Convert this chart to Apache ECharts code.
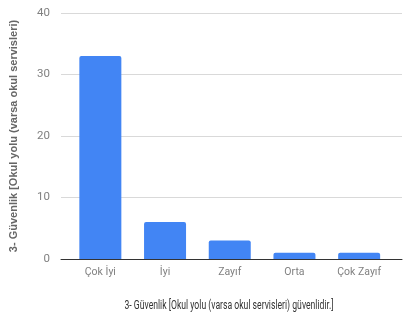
<!DOCTYPE html>
<html lang="tr" style="height: 100%">
<head>
    <meta charset="utf-8">
</head>
<body style="height: 100%; margin: 0; overflow: hidden; background: #fff">
<div id="container" style="height: 324px; width: 408px"></div>

<script type="text/javascript" src="https://cdn.jsdelivr.net/npm/echarts@6/dist/echarts.min.js"></script>

<script type="text/javascript">
    // veriler
    var categories = ['Çok İyi', 'İyi', 'Zayıf', 'Orta', 'Çok Zayıf'];
    var counts = [33, 6, 3, 1, 1];
    var yTicks = [0, 10, 20, 30, 40];

    var yTitle = '3- Güvenlik [Okul yolu (varsa okul servisleri)';
    var xTitle = '3- Güvenlik [Okul yolu (varsa okul servisleri) güvenlidir.]';

    var dom = document.getElementById('container');
    var myChart = echarts.init(dom, null, { renderer: 'canvas' });

    var option = {
      animation: false,
      textStyle: { fontFamily: 'Roboto, sans-serif' },
      grid: [
        // arka plan: ızgara çizgileri tam genişlikte
        { left: 57, right: 6, top: 13, bottom: 65 },
        // sütunlar
        { left: 68, right: 16.5, top: 13, bottom: 65 }
      ],
      // x ekseni başlığı, dar yazı için yatayda sıkıştırılmış
      graphic: [
        {
          type: 'text',
          x: 229,
          y: 306,
          scaleX: 0.72,
          style: {
            text: xTitle,
            font: '12px Roboto, sans-serif',
            fill: '#333',
            align: 'center',
            verticalAlign: 'middle'
          }
        }
      ],
      xAxis: [
        {
          gridIndex: 0,
          type: 'value',
          min: 0,
          max: 1,
          axisLine: { show: true, lineStyle: { color: '#333', width: 1 } },
          axisTick: { show: false },
          axisLabel: { show: false },
          splitLine: { show: false }
        },
        {
          gridIndex: 1,
          type: 'category',
          data: categories,
          axisLine: { show: false },
          axisTick: { show: false },
          axisLabel: { interval: 0, fontSize: 10.5, color: '#808080', margin: 8 }
        }
      ],
      yAxis: [
        {
          gridIndex: 0,
          type: 'value',
          min: yTicks[0],
          max: yTicks[yTicks.length - 1],
          interval: 10,
          axisLine: { show: false },
          axisTick: { show: false },
          axisLabel: { fontSize: 11.5, color: '#808080', margin: 11 },
          splitLine: { lineStyle: { color: '#d9d9d9' } },
          name: yTitle,
          nameLocation: 'middle',
          nameGap: 42,
          nameTextStyle: {
            fontFamily: '"Liberation Sans", Arial, sans-serif',
            fontSize: 11,
            fontWeight: 'bold',
            color: '#666'
          }
        },
        {
          gridIndex: 1,
          type: 'value',
          min: 0,
          max: 40,
          show: false
        }
      ],
      series: [
        {
          type: 'bar',
          xAxisIndex: 1,
          yAxisIndex: 1,
          data: counts,
          barWidth: 42,
          itemStyle: { color: '#4285f4', borderRadius: [2, 2, 0, 0] }
        }
      ]
    };

    myChart.setOption(option);
    window.addEventListener('resize', myChart.resize);
</script>
</body>
</html>
